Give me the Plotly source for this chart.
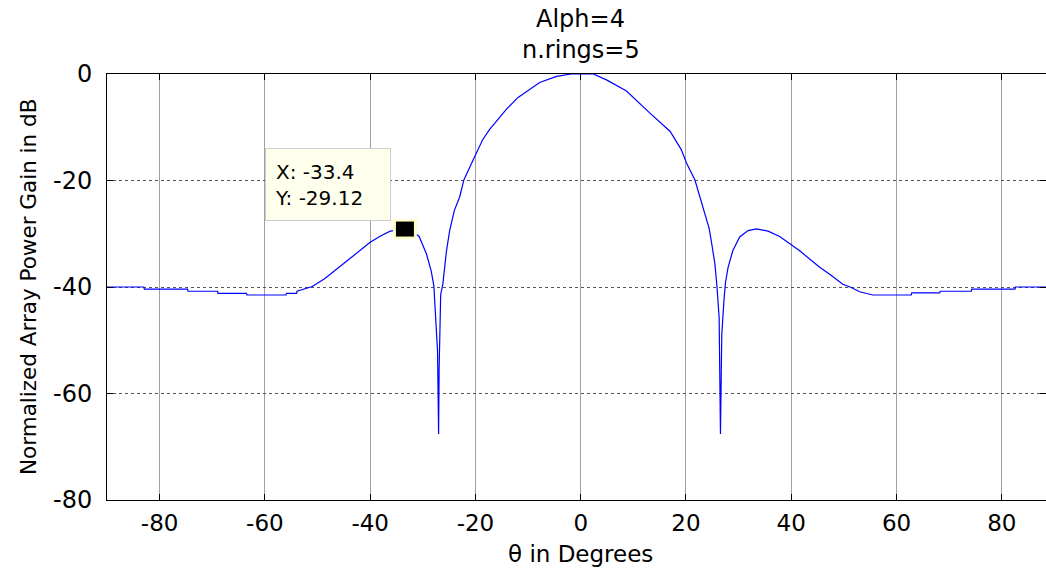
import plotly.graph_objects as go

# Normalized array power gain (dB) vs theta (degrees)
theta_deg = [-90.0, -83.0, -82.9, -74.7, -74.6, -69.0, -68.9, -63.5, -63.4, -56.0,
             -55.9, -54.0, -53.9, -52.5, -51.0, -48.6, -46.4, -43.9, -40.0, -38.2,
             -36.2, -34.5, -33.4, -32.0, -30.7, -29.3, -28.4, -27.9, -27.55, -27.2,
             -27.0, -26.9, -26.6, -26.2, -25.5, -24.9, -24.0, -23.0, -22.2, -21.1,
             -20.0, -18.6, -17.3, -14.1, -11.9, -7.8, -4.6, -1.8, 2.4, 4.9,
             8.7, 13.1, 17.0, 19.1, 20.1, 21.7, 22.6, 23.6, 24.4, 24.8,
             25.5, 25.9, 26.3, 26.55, 26.8, 27.2, 27.5, 28.0, 28.9, 30.2,
             31.8, 33.4, 35.6, 37.8, 41.6, 45.4, 47.3, 49.8, 51.4, 53.0,
             55.5, 62.8, 62.9, 68.2, 68.3, 74.2, 74.3, 82.5, 82.6, 90.0]
gain_db = [-40.0, -40.0, -40.4, -40.4, -40.8, -40.8, -41.2, -41.2, -41.5, -41.5,
           -41.2, -41.2, -40.8, -40.4, -39.9, -38.4, -36.6, -34.7, -31.6, -30.5,
           -29.5, -29.2, -29.12, -29.6, -30.5, -33.8, -37.0, -39.8, -45.8, -52.0,
           -67.6, -55.3, -41.4, -39.5, -33.2, -29.4, -25.6, -23.1, -19.9, -17.4,
           -15.2, -12.3, -10.4, -6.6, -4.4, -1.6, -0.44, 0.0, 0.0, -1.1,
           -3.2, -7.3, -10.8, -14.2, -16.7, -19.9, -23.1, -26.2, -29.0, -31.3,
           -35.7, -40.1, -45.8, -67.6, -49.0, -42.7, -39.2, -36.3, -33.2, -30.6,
           -29.4, -29.1, -29.5, -30.5, -33.2, -36.3, -37.6, -39.5, -40.1, -40.9,
           -41.5, -41.5, -41.1, -41.1, -40.8, -40.8, -40.4, -40.4, -40.0, -40.0]

x_ticks = [-80, -60, -40, -20, 0, 20, 40, 60, 80]
y_ticks = [0, -20, -40, -60, -80]

tip_x = -33.4
tip_y = -29.12

title_lines = ["Alph=4", "n.rings=5"]
x_label = "θ in Degrees"
y_label = "Normalized Array Power Gain in dB"

FONT = "DejaVu Sans, Liberation Sans, Arial, sans-serif"

fig = go.Figure()
fig.add_trace(go.Scatter(x=theta_deg, y=gain_db, mode="lines",
                         line=dict(color="#0000FF", width=1.2),
                         hoverinfo="skip", showlegend=False))

# datatip marker (yellow frame + black square) anchored at the data point
fig.add_shape(type="rect", xref="x", yref="y", xsizemode="pixel", ysizemode="pixel",
              xanchor=tip_x, yanchor=tip_y, x0=-12, x1=12, y0=-10, y1=10,
              fillcolor="#FFFFC8", line=dict(width=0), layer="above")
fig.add_shape(type="rect", xref="x", yref="y", xsizemode="pixel", ysizemode="pixel",
              xanchor=tip_x, yanchor=tip_y, x0=-9, x1=9, y0=-7.5, y1=7.5,
              fillcolor="#000000", line=dict(width=0), layer="above")

fig.add_annotation(x=tip_x, y=tip_y, xref="x", yref="y", showarrow=False,
                   xshift=-77, yshift=45, xanchor="center", yanchor="middle",
                   text=f"X: {tip_x}<br>Y: {tip_y}", align="left",
                   width=106, height=53, borderpad=9,
                   bgcolor="#FFFFEE", bordercolor="#CCCCCC", borderwidth=1,
                   font=dict(family=FONT, size=20, color="black"))

# title lines centred over the axis centre
fig.add_annotation(x=0, y=1, xref="x", yref="paper", yanchor="middle", showarrow=False,
                   yshift=55, text=title_lines[0],
                   font=dict(family=FONT, size=24, color="black"))
fig.add_annotation(x=0, y=1, xref="x", yref="paper", yanchor="middle", showarrow=False,
                   yshift=24, text=title_lines[1],
                   font=dict(family=FONT, size=24, color="black"))
fig.add_annotation(x=0, y=0, xref="x", yref="paper", yanchor="middle", showarrow=False,
                   yshift=-54, text=x_label, font=dict(family=FONT, size=23, color="black"))
fig.add_annotation(x=0, y=0.5, xref="paper", yref="paper", xanchor="center", showarrow=False,
                   xshift=-79, textangle=-90, text=y_label,
                   font=dict(family=FONT, size=21.5, color="black"))

fig.update_layout(
    width=1046, height=573,
    margin=dict(l=107, r=0, t=74, b=73),
    paper_bgcolor="white", plot_bgcolor="white",
    font=dict(family=FONT, size=23, color="black"),
    showlegend=False,
)
fig.update_xaxes(range=[-90, 88.4], tickvals=x_ticks, ticktext=[str(v) for v in x_ticks],
                 tickfont=dict(size=23),
                 showgrid=True, gridcolor="#A0A0A0", gridwidth=1,
                 showline=True, linecolor="black", linewidth=1, mirror="ticks",
                 ticks="inside", ticklen=6, tickcolor="black", zeroline=False,
                 ticklabelstandoff=2, fixedrange=True)
fig.update_yaxes(range=[-80, 0], tickvals=y_ticks, ticktext=[str(v) for v in y_ticks],
                 tickfont=dict(size=24),
                 showgrid=True, gridcolor="#555555", gridwidth=1, griddash="dot",
                 showline=True, linecolor="black", linewidth=1, mirror="ticks",
                 ticks="inside", ticklen=6, tickcolor="black", zeroline=False,
                 ticklabelstandoff=9, fixedrange=True)

fig.write_html("out.html")
